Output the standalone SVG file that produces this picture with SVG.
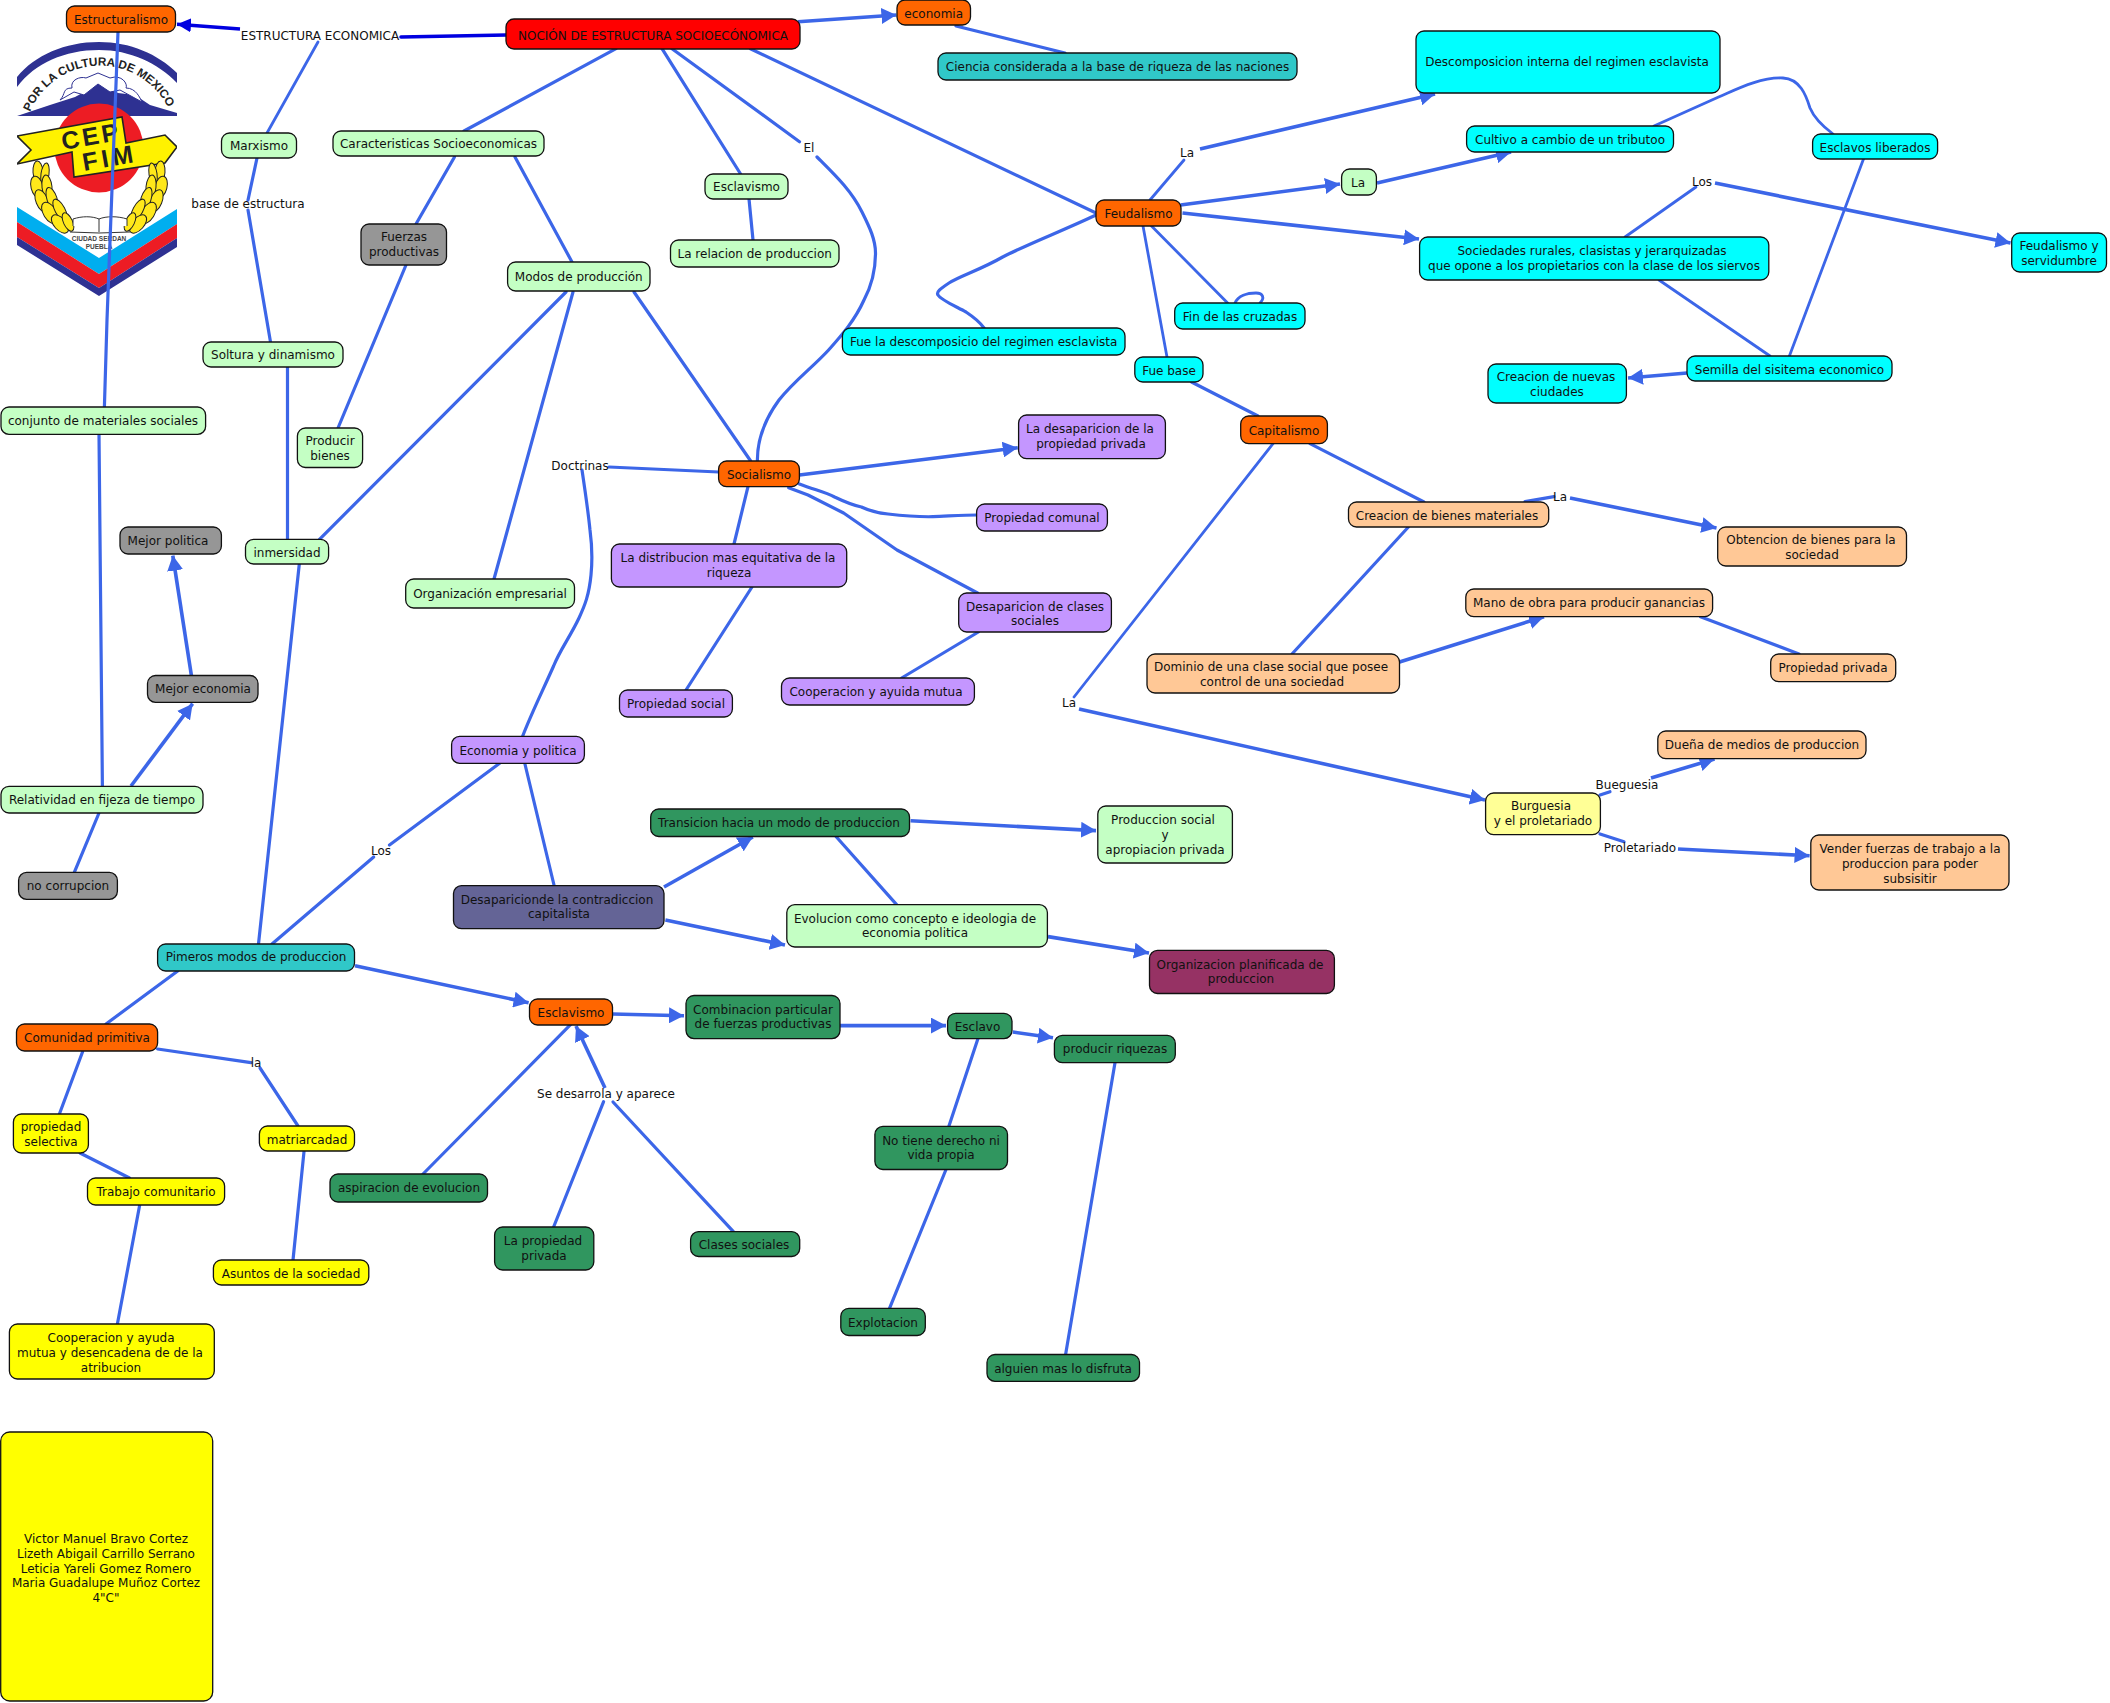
<svg xmlns="http://www.w3.org/2000/svg" width="2110" height="1703" viewBox="0 0 2110 1703">
<style>
text{font-family:"DejaVu Sans",Verdana,sans-serif;font-size:12px;fill:#111;text-anchor:middle}
.n{stroke:#111;stroke-width:1.3}
.o{fill:#ff6600}.r{fill:#ff0000}.c{fill:#00ffff}.g{fill:#c4ffc4}.p{fill:#c496ff}.k{fill:#969696}.t{fill:#30c8c8}.h{fill:#ffc896}.s{fill:#30965f}.i{fill:#646496}.m{fill:#963264}.y{fill:#ffff00}.w{fill:#ffff96}
#connectors path{fill:none;stroke:#3c66e8;stroke-width:3.2;stroke-linecap:round;stroke-linejoin:round}
#connectors path.a{stroke-width:3.6;marker-end:url(#ah);stroke-linecap:butt}
#connectors path.d{stroke:#0000e0;stroke-width:3.6}
#connectors path.da{stroke:#0000e0;stroke-width:3.6;marker-end:url(#ahd);stroke-linecap:butt}
#connectors path.th{stroke-width:2.8}
.lf{fill:#ffe81a;stroke:#222;stroke-width:1}
.lt{font-family:"Liberation Sans",Arial,sans-serif;font-weight:bold;fill:#222;text-anchor:start}
</style>
<defs>
<marker id="ah" markerUnits="userSpaceOnUse" markerWidth="16" markerHeight="16" refX="15" refY="8" orient="auto"><path d="M0,0L15,8L0,16Z" fill="#3c66e8"/></marker>
<marker id="ahd" markerUnits="userSpaceOnUse" markerWidth="16" markerHeight="16" refX="14" refY="7" orient="auto"><path d="M0,0L14,7L0,14Z" fill="#0000e0"/></marker>
<clipPath id="lc"><rect x="17" y="40" width="160" height="260"/></clipPath>
<g id="laurel">
<ellipse class="lf" cx="38" cy="172" rx="5" ry="11" transform="rotate(-4 38 172)"/>
<ellipse class="lf" cx="45" cy="174" rx="4" ry="11" transform="rotate(8 45 174)"/>
<ellipse class="lf" cx="37" cy="187" rx="6" ry="11" transform="rotate(-14 37 187)"/>
<ellipse class="lf" cx="47" cy="187" rx="5" ry="12" transform="rotate(-6 47 187)"/>
<ellipse class="lf" cx="42" cy="201" rx="6" ry="12" transform="rotate(-22 42 201)"/>
<ellipse class="lf" cx="52" cy="199" rx="5" ry="12" transform="rotate(-18 52 199)"/>
<ellipse class="lf" cx="50" cy="213" rx="6.5" ry="12" transform="rotate(-32 50 213)"/>
<ellipse class="lf" cx="60" cy="210" rx="5" ry="12" transform="rotate(-28 60 210)"/>
<ellipse class="lf" cx="60" cy="224" rx="6" ry="11" transform="rotate(-42 60 224)"/>
<ellipse class="lf" cx="68" cy="222" rx="4.5" ry="10" transform="rotate(-25 68 222)"/>
</g>
</defs>
<rect width="2110" height="1703" fill="#fff"/>
<g id="logo" clip-path="url(#lc)">
<path d="M17,77C35,55 65,42 99,42C130,42 158,54 177,73L177,83C158,63 130,50 99,50C65,50 35,63 17,87Z" fill="#2e3192"/>
<path d="M17,116L50,105L75,97L88,90L98,82L108,88L118,93L135,95L150,105L177,113L177,116Z" fill="#2e3192"/>
<path d="M60,100C66,94 62,88 72,88C70,80 80,76 86,78L98,73L110,78C122,74 128,84 126,88C136,88 140,98 142,102L120,90L110,92L98,84L84,95L74,92Z" fill="#fff" stroke="#2e3192" stroke-width="1"/>
<path id="arcp" d="M30,112A76,76 0 0 1 170,112" fill="none"/>
<text class="lt" style="font-size:11.8px"><textPath href="#arcp">POR LA CULTURA DE MEXICO</textPath></text>
<circle cx="99" cy="148" r="44.5" fill="#ed1c24"/>
<path d="M17,136L122,117L126,143L165,135L177,147L165,163L74,177L72,152L17,164L31,150Z" fill="#fff200" stroke="#222" stroke-width="1.6"/>
<text class="lt" transform="translate(63,150) rotate(-10)" style="font-size:25px;letter-spacing:3px">CEP</text>
<text class="lt" transform="translate(84,171) rotate(-10)" style="font-size:25px;letter-spacing:4px">FIM</text>
<use href="#laurel"/>
<use href="#laurel" transform="translate(198,0) scale(-1,1)"/>
<path d="M17,207L99,258L177,209L177,224L99,274L17,222Z" fill="#00aeef"/>
<path d="M17,222L99,274L177,224L177,238L99,288L17,237Z" fill="#ed1c24"/>
<path d="M17,237L99,288L177,238L177,247L99,296L17,245Z" fill="#2e3192"/>
<path d="M73,226L73,219C82,216 92,216 99,219C106,216 118,216 127,219L127,226M99,219L99,232M70,232L99,233L130,232" fill="#fff" stroke="#333" stroke-width="1"/>
<text x="99" y="241" style="font-family:'Liberation Sans',Arial,sans-serif;font-size:6.5px;font-weight:bold;fill:#444">CIUDAD SERDAN</text>
<text x="99" y="249" style="font-family:'Liberation Sans',Arial,sans-serif;font-size:6.5px;font-weight:bold;fill:#444">PUEBLA</text>
</g>
<g id="connectors">
<path class="d" d="M506,35L401,37"/>
<path class="da" d="M240,29L177,24.3"/>
<path class="th" d="M318,42L267,133"/>
<path d="M257,158L248,200M248,210L270.5,342"/>
<path d="M287.5,367L287.5,539"/>
<path d="M299.3,564L258.5,944"/>
<path d="M566,292L319.5,539.4"/>
<path d="M573,292L494,579"/>
<path d="M634,292L750.7,461"/>
<path d="M616,48.7L464,131"/>
<path d="M515,157L572,262"/>
<path d="M454.5,157L416,224"/>
<path d="M406,265L338,428"/>
<path d="M662,48.7L740.6,174"/>
<path d="M749,199L753,240"/>
<path d="M672,48.7L799.5,141.7"/>
<path d="M817,157C835,175 851,190 862,212C870,228 875.5,240 875.5,253C875.5,270 872,285 864,300C855,320 842,335 828.6,350C812,368 795,380 779,400C768,415 757,435 757.4,461"/>
<path d="M750.4,48.7L1096,213"/>
<path class="a" d="M798,21.7L896.4,15"/>
<path d="M956,26L1065,53"/>
<path d="M1096,215C1060,232 1030,243 1002.7,257C980,270 960,276 949,283C940,289 936,292 938,295C941,300 955,306 966,312C975,318 980,322 984,328"/>
<path class="th" d="M1150,200L1184,160"/>
<path class="a" d="M1200,149L1435,94"/>
<path class="a" d="M1180.5,205L1340,184"/>
<path class="a" d="M1377,183L1511,152"/>
<path class="th" d="M1654,126L1718.6,97C1735,90 1760,77 1783,78C1800,79 1806,95 1810,108C1815,120 1825,128 1833,134"/>
<path class="th" d="M1863.5,159L1789.4,356"/>
<path class="th" d="M1659,280L1770,356"/>
<path class="a" d="M1687,373L1628,378"/>
<path class="a" d="M1182.5,213L1419,239"/>
<path class="th" d="M1625,237L1696,187"/>
<path class="a" d="M1715,183L2010.5,243"/>
<path class="th" d="M1151.5,226L1227.6,303"/>
<path class="th" d="M1235,303C1238,296 1247,293 1256,293C1263,293 1265,298 1260,303"/>
<path class="th" d="M1143,226L1167,357"/>
<path d="M1191.5,382L1258,416"/>
<path class="th" d="M1273,443.7L1074,697"/>
<path class="a" d="M1079,709L1485,800"/>
<path d="M1310,443.7L1424,502"/>
<path d="M1525,501.7L1554,496.7"/>
<path class="a" d="M1570,498L1716.5,528"/>
<path d="M1408.4,527L1292,654"/>
<path class="a" d="M1399.5,662L1544,616.7"/>
<path d="M1700.5,616.7L1799,654"/>
<path d="M1600,795L1610,791.7"/>
<path class="a" d="M1651,778L1714.5,759"/>
<path d="M1600,834L1624,841.7"/>
<path class="a" d="M1678,849L1809.6,855.7"/>
<path class="a" d="M799.4,475L1017.7,447.7"/>
<path d="M799.4,484C815,490 825,492 834.6,497C845,502 852,505 861.4,507C870,511 878,513 888,514C905,516 920,517 933,516.7C950,516 965,515 976.6,515"/>
<path d="M788.7,487.7L808,495L843.6,513L897,550L977.5,593"/>
<path d="M748,486.7L734,544"/>
<path d="M752,587L686,690"/>
<path d="M978.4,632L901.6,678"/>
<path d="M718.6,472L609,467"/>
<path d="M582,470C585,490 588,510 590,530C592,545 592.5,560 591,575C589,595 585,605 579,618C570,637 560,650 553.6,666C543,690 532,712 522.7,736"/>
<path d="M500,763L389.5,845"/>
<path d="M373.7,857L272,944"/>
<path d="M524.7,763L554,885"/>
<path class="a" d="M664,887L752.8,837"/>
<path class="a" d="M665.4,920L785,945"/>
<path d="M836,836.5L896.6,904.6"/>
<path class="a" d="M910.6,820.7L1096,830.6"/>
<path class="a" d="M1048,936.6L1149,953"/>
<path class="a" d="M355,965.7L528.6,1002.7"/>
<path d="M177.7,971L106,1024"/>
<path d="M82.6,1051.7L59.4,1114"/>
<path d="M80,1153L129.5,1178"/>
<path d="M139.7,1205L117.4,1324"/>
<path d="M157.6,1049L251,1062.7"/>
<path d="M260,1068L298,1126"/>
<path d="M304,1151.7L293,1260"/>
<path class="a" d="M612.5,1014L684,1015.7"/>
<path d="M570.5,1024.7L423,1174"/>
<path class="a" d="M605,1088L576,1026"/>
<path d="M553.6,1227L603.6,1101.7"/>
<path d="M733.4,1231.6L613,1102"/>
<path class="a" d="M840,1025.6L946,1025.6"/>
<path class="a" d="M1012.8,1032L1053,1037.8"/>
<path d="M978,1038.6L948.8,1126.4"/>
<path d="M946,1169.5L889.5,1308.3"/>
<path d="M1115,1062.7L1065.6,1354.5"/>
<path d="M118,32L107,320L104.4,407"/>
<path d="M99,434L102.4,786"/>
<path class="a" d="M131,786L192.6,703.7"/>
<path class="a" d="M191.4,675.5L172.8,555.6"/>
<path d="M99,813L74.3,872.4"/>
</g>
<g id="labels">
<text x="320" y="40">ESTRUCTURA ECONOMICA</text>
<text x="248" y="208">base de estructura</text>
<text x="809" y="152">El</text>
<text x="1187" y="157">La</text>
<text x="1702" y="186">Los</text>
<text x="1069" y="707">La</text>
<text x="1560" y="501">La</text>
<text x="1627" y="789">Bueguesia</text>
<text x="1640" y="852">Proletariado</text>
<text x="580" y="470">Doctrinas</text>
<text x="381" y="855">Los</text>
<text x="256" y="1067">la</text>
<text x="606" y="1098">Se desarrola y aparece</text>
</g>
<g id="n1"><rect class="n r" x="506" y="19" width="294" height="30" rx="8"/><text x="653" y="40">NOCIÓN DE ESTRUCTURA SOCIOECÓNOMICA</text></g>
<g id="n2"><rect class="n o" x="66.5" y="6" width="109" height="26" rx="8"/><text x="121" y="23.5">Estructuralismo</text></g>
<g id="n3"><rect class="n g" x="221.5" y="133" width="75" height="25" rx="8"/><text x="259" y="150">Marxismo</text></g>
<g id="n4"><rect class="n g" x="333" y="131" width="211" height="25" rx="8"/><text x="438.5" y="148">Caracteristicas Socioeconomicas</text></g>
<g id="n5"><rect class="n k" x="361" y="224" width="85.5" height="41" rx="8"/><text x="404" y="241">Fuerzas</text><text x="404" y="256">productivas</text></g>
<g id="n6"><rect class="n g" x="507.6" y="262" width="142.4" height="29" rx="8"/><text x="578.8" y="281">Modos de producción</text></g>
<g id="n7"><rect class="n g" x="705" y="174" width="83" height="25" rx="8"/><text x="746.5" y="191">Esclavismo</text></g>
<g id="n8"><rect class="n g" x="670.5" y="240" width="168.5" height="27" rx="8"/><text x="754.7" y="258">La relacion de produccion</text></g>
<g id="n9"><rect class="n c" x="842.4" y="328" width="282.6" height="27" rx="8"/><text x="983.7" y="346">Fue la descomposicio del regimen esclavista</text></g>
<g id="n10"><rect class="n t" x="938" y="53" width="359" height="27" rx="8"/><text x="1117.5" y="71">Ciencia considerada a la base de riqueza de las naciones</text></g>
<g id="n11"><rect class="n o" x="897" y="0" width="73.5" height="25" rx="8"/><text x="933.7" y="18">economia</text></g>
<g id="n12"><rect class="n o" x="1096" y="200" width="85" height="26" rx="8"/><text x="1138.5" y="217.5">Feudalismo</text></g>
<g id="n13"><rect class="n c" x="1416" y="31" width="304" height="62" rx="8"/><text x="1567" y="65.5">Descomposicion interna del regimen esclavista</text></g>
<g id="n14"><rect class="n c" x="1466.6" y="126" width="206.9" height="26" rx="8"/><text x="1570" y="143.5">Cultivo a cambio de un tributoo</text></g>
<g id="n15"><rect class="n c" x="1812.6" y="134" width="125" height="25" rx="8"/><text x="1875" y="151.5">Esclavos liberados</text></g>
<g id="n16"><rect class="n g" x="1341.6" y="169" width="34.8" height="26" rx="8"/><text x="1358" y="187">La</text></g>
<g id="n17"><rect class="n c" x="1419.6" y="237" width="349.2" height="43" rx="8"/><text x="1592" y="255">Sociedades rurales, clasistas y jerarquizadas</text><text x="1594" y="270">que opone a los propietarios con la clase de los siervos</text></g>
<g id="n18"><rect class="n c" x="2011.7" y="233" width="94.8" height="39" rx="8"/><text x="2059" y="250">Feudalismo y</text><text x="2059" y="265">servidumbre</text></g>
<g id="n19"><rect class="n c" x="1174.7" y="303" width="130.3" height="26" rx="8"/><text x="1240" y="320.5">Fin de las cruzadas</text></g>
<g id="n20"><rect class="n c" x="1134.8" y="357" width="68.2" height="25" rx="8"/><text x="1169" y="374.5">Fue base</text></g>
<g id="n21"><rect class="n c" x="1687" y="356" width="205" height="25" rx="8"/><text x="1789.5" y="373.5">Semilla del sisitema economico</text></g>
<g id="n22"><rect class="n c" x="1488" y="364" width="138.4" height="39" rx="8"/><text x="1556" y="381">Creacion de nuevas</text><text x="1557" y="396">ciudades</text></g>
<g id="n23"><rect class="n o" x="1240.7" y="416" width="86.7" height="27.7" rx="8"/><text x="1284" y="434.5">Capitalismo</text></g>
<g id="n24"><rect class="n h" x="1348.5" y="502" width="200.2" height="25" rx="8"/><text x="1447" y="519.5">Creacion de bienes materiales</text></g>
<g id="n25"><rect class="n h" x="1717.7" y="527" width="188.8" height="39" rx="8"/><text x="1811" y="544">Obtencion de bienes para la</text><text x="1812" y="559">sociedad</text></g>
<g id="n26"><rect class="n h" x="1465.8" y="589" width="246.8" height="27.7" rx="8"/><text x="1589" y="606.5">Mano de obra para producir ganancias</text></g>
<g id="n27"><rect class="n h" x="1147" y="654" width="252.5" height="39" rx="8"/><text x="1271" y="671">Dominio de una clase social que posee</text><text x="1272" y="686">control de una sociedad</text></g>
<g id="n28"><rect class="n h" x="1770.7" y="654" width="125" height="27.7" rx="8"/><text x="1833" y="671.5">Propiedad privada</text></g>
<g id="n29"><rect class="n h" x="1657.8" y="731" width="208.2" height="27.7" rx="8"/><text x="1762" y="749">Dueña de medios de produccion</text></g>
<g id="n30"><rect class="n w" x="1485.6" y="793" width="114.8" height="41.7" rx="8"/><text x="1541" y="810">Burguesia</text><text x="1543" y="825">y el proletariado</text></g>
<g id="n31"><rect class="n h" x="1810.8" y="835" width="198.2" height="55" rx="8"/><text x="1910" y="853">Vender fuerzas de trabajo a la</text><text x="1910" y="868">produccion para poder</text><text x="1910" y="883">subsisitir</text></g>
<g id="n32"><rect class="n g" x="1097.8" y="806" width="134.6" height="57" rx="8"/><text x="1163" y="824">Produccion social</text><text x="1165" y="839">y</text><text x="1165" y="854">apropiacion privada</text></g>
<g id="n33"><rect class="n o" x="718.6" y="461" width="80.8" height="25.7" rx="8"/><text x="759" y="478.5">Socialismo</text></g>
<g id="n34"><rect class="n p" x="1018.6" y="415" width="146.8" height="43.7" rx="8"/><text x="1090" y="433">La desaparicion de la</text><text x="1091" y="448">propiedad privada</text></g>
<g id="n35"><rect class="n p" x="976.6" y="504" width="130.8" height="27" rx="8"/><text x="1042" y="522">Propiedad comunal</text></g>
<g id="n36"><rect class="n p" x="611.4" y="544" width="235.3" height="43" rx="8"/><text x="728" y="562">La distribucion mas equitativa de la</text><text x="729" y="577">riqueza</text></g>
<g id="n37"><rect class="n p" x="958.7" y="593" width="152.7" height="39" rx="8"/><text x="1035" y="611">Desaparicion de clases</text><text x="1035" y="625">sociales</text></g>
<g id="n38"><rect class="n p" x="619.5" y="690" width="112.9" height="27" rx="8"/><text x="676" y="708">Propiedad social</text></g>
<g id="n39"><rect class="n p" x="781.5" y="678" width="192.9" height="27" rx="8"/><text x="876" y="696">Cooperacion y ayuida mutua</text></g>
<g id="n40"><rect class="n p" x="451.6" y="736.4" width="132.8" height="26.9" rx="8"/><text x="518" y="754.5">Economia y politica</text></g>
<g id="n41"><rect class="n g" x="405.7" y="579" width="168.8" height="29" rx="8"/><text x="490" y="598">Organización empresarial</text></g>
<g id="n42"><rect class="n k" x="120" y="527" width="101.4" height="27" rx="8"/><text x="168" y="545">Mejor politica</text></g>
<g id="n43"><rect class="n k" x="147.5" y="675.5" width="110.5" height="26.8" rx="8"/><text x="203" y="692.5">Mejor economia</text></g>
<g id="n44"><rect class="n g" x="245.5" y="539.4" width="83.1" height="24.6" rx="8"/><text x="287" y="556.5">inmersidad</text></g>
<g id="n45"><rect class="n g" x="297.4" y="428" width="65.2" height="39.5" rx="8"/><text x="330" y="445">Producir</text><text x="330" y="460">bienes</text></g>
<g id="n46"><rect class="n g" x="1" y="407" width="204.6" height="27.4" rx="8"/><text x="103" y="424.5">conjunto de materiales sociales</text></g>
<g id="n47"><rect class="n g" x="1" y="786.3" width="202" height="26.7" rx="8"/><text x="102" y="804">Relatividad en fijeza de tiempo</text></g>
<g id="n48"><rect class="n k" x="18.6" y="872.4" width="98.8" height="26.9" rx="8"/><text x="68" y="890">no corrupcion</text></g>
<g id="n49"><rect class="n g" x="203" y="342" width="140" height="25" rx="8"/><text x="273" y="359">Soltura y dinamismo</text></g>
<g id="n50"><rect class="n t" x="157.6" y="944" width="196.9" height="27" rx="8"/><text x="256" y="961">Pimeros modos de produccion</text></g>
<g id="n51"><rect class="n o" x="16.5" y="1024" width="141.1" height="27" rx="8"/><text x="87" y="1041.5">Comunidad primitiva</text></g>
<g id="n52"><rect class="n y" x="13.4" y="1114" width="75" height="39" rx="8"/><text x="51" y="1131">propiedad</text><text x="51" y="1146">selectiva</text></g>
<g id="n53"><rect class="n y" x="259.4" y="1126" width="95.1" height="25" rx="8"/><text x="307" y="1143.5">matriarcadad</text></g>
<g id="n54"><rect class="n y" x="87.5" y="1178" width="137.1" height="27" rx="8"/><text x="156" y="1195.5">Trabajo comunitario</text></g>
<g id="n55"><rect class="n y" x="213.4" y="1260" width="155.4" height="25" rx="8"/><text x="291" y="1277.5">Asuntos de la sociedad</text></g>
<g id="n56"><rect class="n y" x="9.4" y="1324" width="204.9" height="55" rx="8"/><text x="111" y="1342">Cooperacion y ayuda</text><text x="110" y="1357">mutua y desencadena de de la</text><text x="111" y="1372">atribucion</text></g>
<g id="n57"><rect class="n o" x="529.5" y="999" width="83" height="26" rx="8"/><text x="571" y="1016.5">Esclavismo</text></g>
<g id="n58"><rect class="n s" x="330" y="1174" width="157.5" height="28" rx="8"/><text x="409" y="1192">aspiracion de evolucion</text></g>
<g id="n59"><rect class="n s" x="494.6" y="1227" width="99.2" height="43" rx="8"/><text x="543" y="1245">La propiedad</text><text x="544" y="1260">privada</text></g>
<g id="n60"><rect class="n i" x="453.5" y="885.6" width="210.5" height="43.1" rx="8"/><text x="557" y="903.5">Desaparicionde la contradiccion</text><text x="559" y="918">capitalista</text></g>
<g id="n61"><rect class="n s" x="650.7" y="809" width="258.8" height="27.5" rx="8"/><text x="779" y="826.5">Transicion hacia un modo de produccion</text></g>
<g id="n62"><rect class="n g" x="786.8" y="904.6" width="260.6" height="42.4" rx="8"/><text x="915" y="922.5">Evolucion como concepto e ideologia de</text><text x="915" y="937">economia politica</text></g>
<g id="n63"><rect class="n m" x="1149.5" y="950.4" width="184.9" height="43.1" rx="8"/><text x="1240" y="968.5">Organizacion planificada de</text><text x="1241" y="983">produccion</text></g>
<g id="n64"><rect class="n s" x="686" y="995.5" width="154" height="43.1" rx="8"/><text x="763" y="1013.5">Combinacion particular</text><text x="763" y="1028">de fuerzas productivas</text></g>
<g id="n65"><rect class="n s" x="947.6" y="1013.3" width="64.4" height="25.3" rx="8"/><text x="977.5" y="1031">Esclavo</text></g>
<g id="n66"><rect class="n s" x="1054.4" y="1035.4" width="120.9" height="27.3" rx="8"/><text x="1115" y="1053">producir riquezas</text></g>
<g id="n67"><rect class="n s" x="874.9" y="1126.4" width="132.6" height="43.1" rx="8"/><text x="941" y="1144.5">No tiene derecho ni</text><text x="941" y="1159">vida propia</text></g>
<g id="n68"><rect class="n s" x="690.6" y="1231.6" width="109.1" height="24.9" rx="8"/><text x="744" y="1249">Clases sociales</text></g>
<g id="n69"><rect class="n s" x="840.8" y="1308.3" width="84.5" height="27.2" rx="8"/><text x="883" y="1326.5">Explotacion</text></g>
<g id="n70"><rect class="n s" x="987" y="1354.5" width="152.5" height="26.9" rx="8"/><text x="1063" y="1372.5">alguien mas lo disfruta</text></g>
<g id="n71"><rect class="n y" x="0.7" y="1432" width="212" height="269" rx="9"/><text x="106" y="1543">Victor Manuel Bravo Cortez</text><text x="106" y="1558">Lizeth Abigail Carrillo Serrano</text><text x="106" y="1572.5">Leticia Yareli Gomez Romero</text><text x="106" y="1587">Maria Guadalupe Muñoz Cortez</text><text x="106" y="1601.5">4"C"</text></g>
</svg>
